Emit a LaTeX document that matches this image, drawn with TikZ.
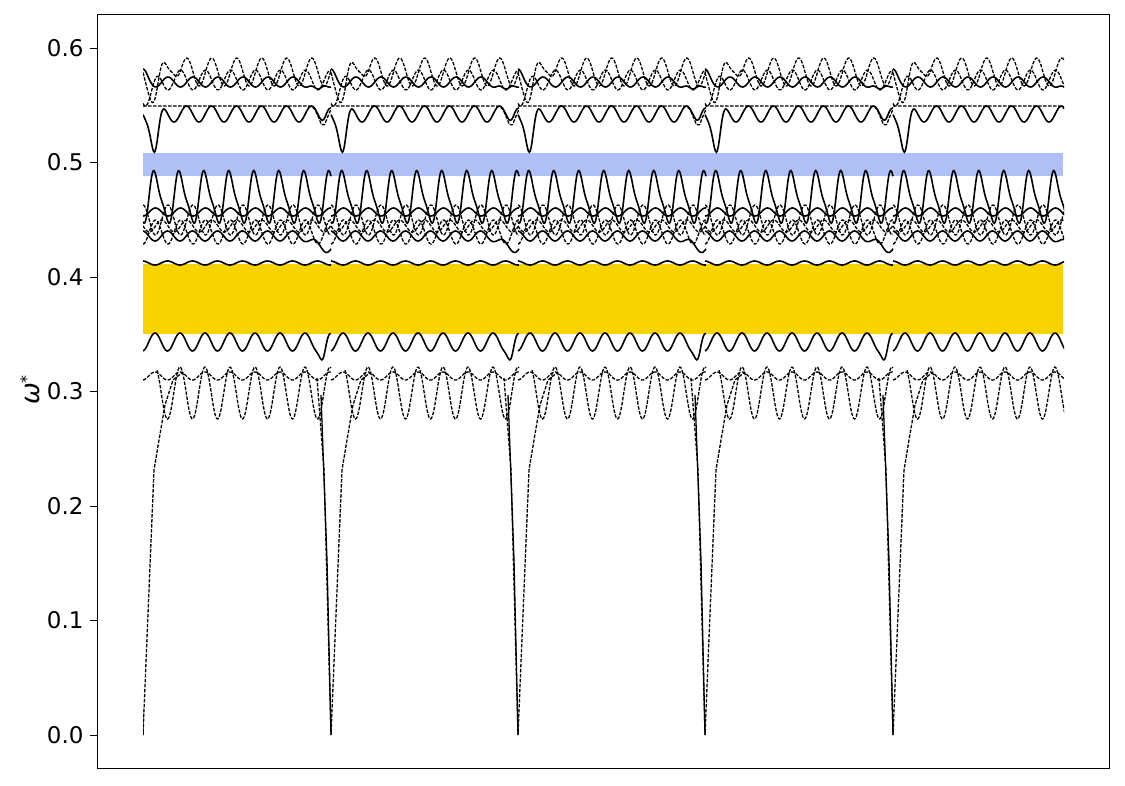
\documentclass[tikz,border=0pt]{standalone}
\usepackage{fontspec}
\setmainfont{DejaVu Sans}
\begin{document}
\begin{tikzpicture}[x=1pt,y=-1pt,
  crv/.style={line width=1.6pt},
  dcrv/.style={line width=1.3pt,dash pattern=on 3.5pt off 1.5pt},
  tick/.style={font=\fontsize{23}{26}\selectfont,anchor=east},
  declare function={g(\u,\c,\w)=exp(-min(20,((\u-\c)/\w)^2)); cs(\u)=cos(\u/25*360); sn(\u)=sin(\u/25*360);}]
\useasboundingbox (0,0) rectangle (1125,785);
\fill[fill={rgb,255:red,174;green,192;blue,245}] (143,153) rectangle (1063,176);
\fill[fill={rgb,255:red,247;green,212;blue,0}] (143,264) rectangle (1063,334);
\begin{scope}
\clip (143,20) rectangle (1064,760);
\foreach \s in {143,331,518,705,893}{
  \draw[dcrv] plot[domain=\s:\s+188,samples=200] (\x,{72+14*sn(\x-\s)-12*g(\x-\s,30,5)+25*g(\x-\s,12,6)});
  \draw[dcrv] plot[domain=\s:\s+188,samples=120] (\x,{80+10*cs(\x-\s)+20*g(\x-\s,5,8)});
  \draw[crv] plot[domain=\s:\s+188,samples=160] (\x,{82-5*cs(\x-\s)+12*g(\x-\s,175,6)-8*g(\x-\s,0,6)});
  \draw[dcrv] plot[domain=\s:\s+188,samples=60] (\x,{106+20*g(\x-\s,180,6)});
  \draw[crv] plot[domain=\s:\s+188,samples=200] (\x,{114+8*cs(\x-\s-6)+37*g(\x-\s,12,5)-8*g(\x-\s,185,4)});
  \draw[crv] plot[domain=\s:\s+188,samples=220] (\x,{198-24*cs(\x-\s-12)+6*sin((\x-\s)/25*720)});
  \draw[crv] plot[domain=\s:\s+188,samples=200] (\x,{212+4*cs(\x-\s)});
  \draw[dcrv] plot[domain=\s:\s+188,samples=220] (\x,{220-15*cs(\x-\s)});
  \draw[dcrv] plot[domain=\s:\s+188,samples=220] (\x,{232+12*cs(\x-\s)});
  \draw[crv] plot[domain=\s:\s+188,samples=200] (\x,{236+5*cs(\x-\s-12)+15*g(\x-\s,180,10)});
  \draw[dcrv] plot[domain=\s:\s+188,samples=200] (\x,{226+6*sn(\x-\s)});
  \draw[crv] plot[domain=\s:\s+188,samples=150] (\x,{263+2*cs(\x-\s-12)});
  \draw[crv] plot[domain=\s:\s+188,samples=200] (\x,{342-9*cs(\x-\s-12)+15*g(\x-\s,180,4)});
  \draw[dcrv] plot[domain=\s:\s+188,samples=200] (\x,{376-4*cs(\x-\s-12)});
  \draw[dcrv] plot[domain=\s+14:\s+188,samples=200] (\x,{393-26*cs(\x-\s-12)});
  \draw[dcrv] (\s-14,378) -- (\s-7,470) -- (\s,735) -- (\s+6,590) -- (\s+11,470) -- (\s+16,440) -- (\s+22,405) -- (\s+30,380) -- (\s+40,372);
  \draw[crv,line width=1.3pt] (\s-10,395) -- (\s-4,560) -- (\s,735);
}
\end{scope}
\draw[line width=1pt] (97,14) rectangle (1109,768);
\foreach \v [count=\i from 0] in {0.0,0.1,0.2,0.3,0.4,0.5,0.6}{
  \draw[line width=1pt] (97,735-114.5*\i) -- (90,735-114.5*\i);
  \node[tick] (t\i) at (87,735-114.5*\i) {\v};
}
\node[rotate=90,font=\fontsize{26}{28}\selectfont\itshape] (yl) at (30,390) {ω\raisebox{0.5ex}{\fontsize{16}{18}\selectfont *}};
\end{tikzpicture}
\end{document}
